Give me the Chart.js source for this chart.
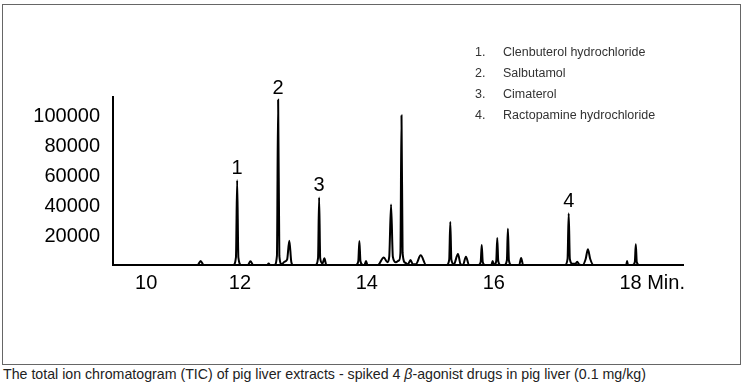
<!DOCTYPE html>
<html>
<head>
<meta charset="utf-8">
<title>TIC of pig liver extract</title>
<script src="https://cdn.jsdelivr.net/npm/chart.js@4.4.1/dist/chart.umd.min.js"></script>
<style>
    html, body { margin: 0; padding: 0; background: #fff; }
    #wrap { position: relative; width: 748px; height: 388px; overflow: hidden; }
    #frame { position: absolute; left: 2px; top: 4px; width: 737px; height: 359px; border: 1px solid #666; }
    #ticChart { position: absolute; left: 0; top: 0; }
    #caption {
        position: absolute; left: 3px; top: 366px; white-space: nowrap;
        font: 14.2px "Liberation Sans", Arial, sans-serif; color: #222;
    }
</style>
</head>
<body>
<div id="wrap">
    <div id="frame"></div>
    <canvas id="ticChart" width="748" height="366"></canvas>
    <div id="caption">The total ion chromatogram (TIC) of pig liver extracts - spiked 4 <i>&beta;</i>-agonist drugs in pig liver (0.1 mg/kg)</div>
</div>
<script>
// Trace (retention time in min, abundance)
const retentionTime = [
    9.45, 10.85, 10.90, 10.95,
    11.44, 11.484, 11.504, 11.524, 11.57,
    11.68, 11.724, 11.77, 12.00, 12.025, 12.05,
    12.12, 12.162, 12.182, 12.202, 12.24,
    12.29, 12.33, 12.367, 12.40, 12.43,
    12.80, 12.842, 12.86, 12.878, 12.915, 12.947, 12.98,
    13.47, 13.508, 13.526, 13.544, 13.585, 13.61, 13.636, 13.66,
    13.83, 13.93, 13.99, 14.02, 14.05, 14.08, 14.13,
    14.18, 14.205, 14.223, 14.241, 14.285, 14.33, 14.372, 14.41,
    14.46, 14.54, 14.63,
    14.97, 15.012, 15.03, 15.048, 15.09, 15.157, 15.20,
    15.24, 15.289, 15.34,
    15.495, 15.533, 15.55, 15.567, 15.605,
    15.71, 15.731, 15.752, 15.79, 15.807, 15.824, 15.86,
    15.925, 15.966, 15.983, 16.0, 16.04, 16.17, 16.202, 16.235,
    16.93, 16.97, 16.989, 17.008, 17.05, 17.10, 17.129, 17.16,
    17.22, 17.27, 17.306, 17.345, 17.40,
    17.94, 17.955, 17.97,
    18.045, 18.083, 18.099, 18.115, 18.155, 18.88
];
const abundance = [
    0, 0, 2600, 0,
    0, 5000, 56300, 5000, 0,
    0, 2500, 0, 0, 1000, 0,
    0, 6000, 109700, 6000, 600,
    2200, 3500, 16100, 2000, 0,
    0, 4500, 44800, 4500, 1000, 4400, 0,
    0, 2500, 15900, 2500, 0, 0, 2600, 0,
    0, 5000, 1800, 5500, 40200, 5500, 1800,
    3000, 8000, 99300, 8000, 1500, 500, 3300, 500,
    500, 6400, 0,
    0, 3500, 28500, 3500, 500, 7300, 500,
    0, 5500, 0,
    0, 2000, 13200, 2000, 0,
    0, 2600, 0, 2500, 17900, 2500, 0,
    0, 3000, 24000, 3000, 0, 0, 4600, 0,
    0, 4000, 34200, 4000, 800, 800, 2200, 500,
    0, 4000, 10400, 4000, 0,
    0, 2600, 0,
    0, 2000, 13700, 2000, 0, 0
];

// Numbered analyte peaks
const peakNumbers = ['1', '2', '3', '4'];
const peakTimes = [11.504, 12.182, 12.86, 16.989];
const peakHeights = [56300, 109700, 44800, 34200];
const compoundNames = [
    'Clenbuterol hydrochloride',
    'Salbutamol',
    'Cimaterol',
    'Ractopamine hydrochloride'
];

// Axis ticks (the printed labels are not evenly spaced in time)
const xTickPositions = [10, 11.55, 13.65, 15.75, 18.37];
const xTickLabels = ['10', '12', '14', '16', '18 Min.'];
const yTickValues = [20000, 40000, 60000, 80000, 100000];

const FONT = '"Liberation Sans", Arial, sans-serif';

// Draws the peak numbers and the compound key
const peakLabelPlugin = {
    id: 'peakLabels',
    afterDatasetsDraw(chart) {
        const { ctx, scales: { x, y } } = chart;
        ctx.save();
        ctx.fillStyle = '#000';
        ctx.font = '20px ' + FONT;
        ctx.textAlign = 'center';
        ctx.textBaseline = 'alphabetic';
        peakNumbers.forEach((num, i) => {
            ctx.fillText(num, x.getPixelForValue(peakTimes[i]), y.getPixelForValue(peakHeights[i]) - 6);
        });

        ctx.font = '12.5px ' + FONT;
        ctx.fillStyle = '#333';
        ctx.textBaseline = 'middle';
        ctx.textAlign = 'left';
        compoundNames.forEach((name, i) => {
            const rowY = 53 + i * 20.7;
            ctx.fillText((i + 1) + '.', 475, rowY);
            ctx.fillText(name, 503, rowY);
        });
        ctx.restore();
    }
};

const ticCtx = document.getElementById('ticChart').getContext('2d');
new Chart(ticCtx, {
    type: 'line',
    data: {
        datasets: [{
            data: retentionTime.map((t, i) => ({ x: t, y: abundance[i] })),
            borderColor: '#000',
            borderWidth: 2,
            pointRadius: 0,
            fill: false,
            cubicInterpolationMode: 'monotone',
            clip: false
        }]
    },
    options: {
        responsive: false,
        animation: false,
        layout: { padding: { left: 28, top: 97, right: 65, bottom: 71 } },
        plugins: {
            legend: { display: false },
            tooltip: { enabled: false }
        },
        scales: {
            x: {
                type: 'linear',
                min: 9.45,
                max: 18.88,
                grid: { display: false },
                border: { display: true, color: '#000', width: 2 },
                afterBuildTicks: (axis) => { axis.ticks = xTickPositions.map(v => ({ value: v })); },
                afterFit: (axis) => { axis.height = 30; },
                ticks: {
                    autoSkip: false,
                    maxRotation: 0,
                    padding: -2,
                    color: '#000',
                    font: { family: FONT, size: 20 },
                    callback: (value, index) => xTickLabels[index]
                }
            },
            y: {
                min: 0,
                max: 111500,
                grid: { display: false },
                border: { display: true, color: '#000', width: 2 },
                afterBuildTicks: (axis) => { axis.ticks = yTickValues.map(v => ({ value: v })); },
                afterFit: (axis) => { axis.width = 85; },
                ticks: {
                    padding: 5,
                    labelOffset: 2,
                    color: '#000',
                    font: { family: FONT, size: 20 },
                    callback: (value) => String(value)
                }
            }
        }
    },
    plugins: [peakLabelPlugin]
});
</script>
</body>
</html>
